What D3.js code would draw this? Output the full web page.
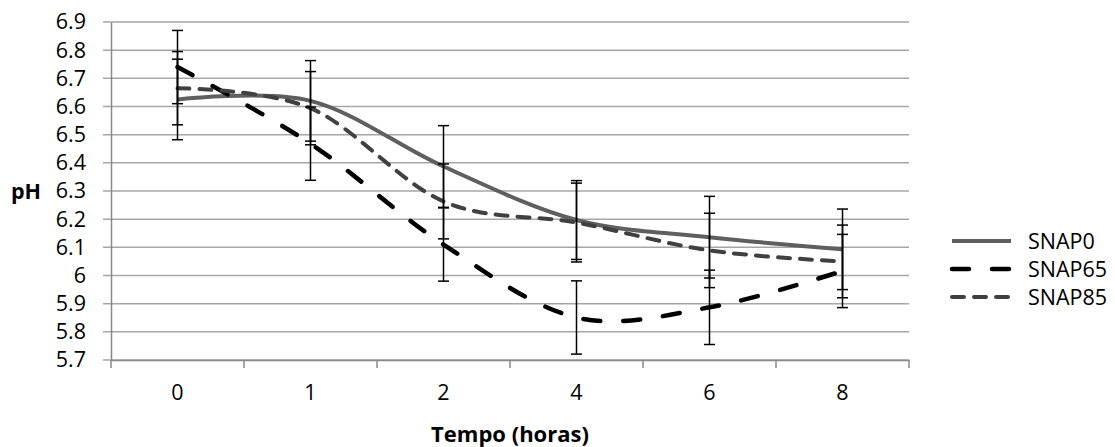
<!DOCTYPE html>
<html><head><meta charset="utf-8">
<script src="https://cdn.jsdelivr.net/npm/d3@7"></script>
<style>body{margin:0;background:#fff}svg{display:block}text{font-family:"Open Sans",Lato,sans-serif}</style>
</head><body>
<svg id="c" width="1115" height="447"></svg>
<script>
const categories = ["0","1","2","4","6","8"];
const snap0 = [6.625, 6.62, 6.387, 6.197, 6.136, 6.093];
const snap0Err = [0.143, 0.143, 0.145, 0.14, 0.145, 0.143];
const snap65 = [6.74, 6.468, 6.11, 5.851, 5.887, 6.016];
const snap65Err = [0.13, 0.13, 0.13, 0.13, 0.132, 0.13];
const snap85 = [6.665, 6.594, 6.263, 6.188, 6.089, 6.05];
const snap85Err = [0.13, 0.13, 0.133, 0.14, 0.132, 0.129];
const yTicks = [5.7,5.8,5.9,6.0,6.1,6.2,6.3,6.4,6.5,6.6,6.7,6.8,6.9];
const seriesNames = ["SNAP0","SNAP65","SNAP85"];

const series = [
  {name: seriesNames[0], values: snap0, err: snap0Err, color: "#5f5f5f", width: 4, dash: null},
  {name: seriesNames[1], values: snap65, err: snap65Err, color: "#000000", width: 4.5, dash: "17,23"},
  {name: seriesNames[2], values: snap85, err: snap85Err, color: "#404040", width: 4, dash: "12,10"}
];

const FS = 21.5;
const svg = d3.select("#c");
const L = 111, R = 909, T = 22, B = 360;
const x = d3.scaleBand().domain(categories).range([L, R]);
const y = d3.scaleLinear().domain([5.7, 6.9]).range([B, T]);
const cx = c => x(c) + x.bandwidth()/2;

// gridlines
svg.append("g").selectAll("line").data(yTicks).join("line")
  .attr("x1", L - 8).attr("x2", R).attr("y1", d => y(d)).attr("y2", d => y(d))
  .attr("stroke", "#a6a6a6").attr("stroke-width", 1.5);

// y axis
const yAxis = svg.append("g").attr("transform", `translate(${L},0)`)
  .call(d3.axisLeft(y).tickValues(yTicks).tickSize(0).tickPadding(25).tickFormat(d => d3.format("")(+d.toFixed(1))));
yAxis.select(".domain").attr("stroke", "#888").attr("stroke-width", 1.5);
yAxis.selectAll("text").attr("font-size", FS).attr("fill", "#000");

// x axis
const xAxis = svg.append("g").attr("transform", `translate(0,${B})`)
  .call(d3.axisBottom(x).tickSize(0).tickPadding(25));
xAxis.select(".domain").attr("stroke", "#888").attr("stroke-width", 1.5);
xAxis.selectAll("text").attr("font-size", FS).attr("fill", "#000");
svg.append("g").selectAll("line").data(categories.map(c => x(c)).concat([R])).join("line")
  .attr("x1", d => d).attr("x2", d => d).attr("y1", B).attr("y2", B + 8)
  .attr("stroke", "#888").attr("stroke-width", 1.5);

// lines
const line = d3.line().x((d, i) => cx(categories[i])).y(d => y(d)).curve(d3.curveCardinal.tension(0));
series.forEach(s => {
  svg.append("path").attr("d", line(s.values)).attr("fill", "none")
    .attr("stroke", s.color).attr("stroke-width", s.width)
    .attr("stroke-linecap", s.dash ? "round" : "butt")
    .attr("stroke-dasharray", s.dash);
});

// error bars
series.forEach(s => {
  const g = svg.append("g").attr("stroke", "#000").attr("stroke-width", 1.5);
  s.values.forEach((v, i) => {
    const px = cx(categories[i]);
    g.append("line").attr("x1", px).attr("x2", px).attr("y1", y(v + s.err[i])).attr("y2", y(v - s.err[i]));
    [v + s.err[i], v - s.err[i]].forEach(e => {
      g.append("line").attr("x1", px - 5.5).attr("x2", px + 5.5).attr("y1", y(e)).attr("y2", y(e));
    });
  });
});

// legend
series.forEach((s, i) => {
  const ly = 241 + i * 28;
  svg.append("line").attr("x1", 952).attr("x2", 1011).attr("y1", ly).attr("y2", ly)
    .attr("stroke", s.color).attr("stroke-width", s.width)
    .attr("stroke-linecap", s.dash ? "round" : "butt")
    .attr("stroke-dasharray", s.dash);
  svg.append("text").attr("x", 1028).attr("y", ly).attr("dy", "0.36em")
    .attr("font-size", FS).text(s.name);
});

// axis titles
svg.append("text").attr("x", (L + R) / 2).attr("y", 434).attr("dy", "0.36em")
  .attr("text-anchor", "middle").attr("font-size", FS + 0.5).attr("font-weight", "bold").text("Tempo (horas)");
svg.append("text").attr("x", 26).attr("y", 191).attr("dy", "0.36em")
  .attr("text-anchor", "middle").attr("font-size", FS).attr("font-weight", "bold").text("pH");
</script>
</body></html>
